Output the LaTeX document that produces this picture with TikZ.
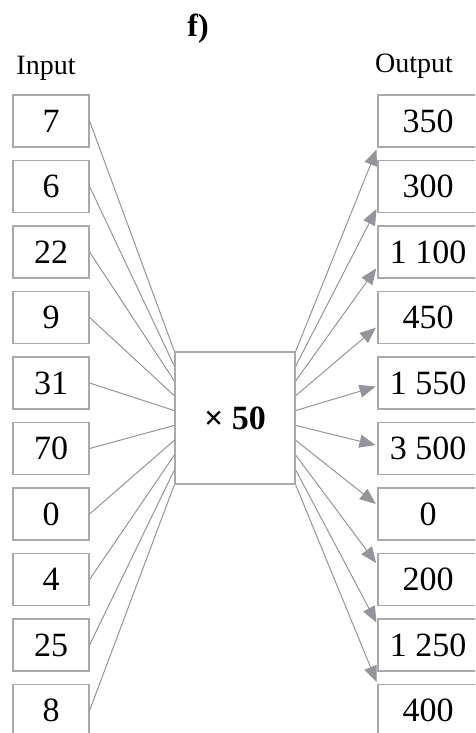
\documentclass[tikz,border=0pt]{standalone}
\usepackage{fontspec}
\setmainfont{Liberation Serif}
\usepackage{xcolor}
\definecolor{lineGray}{HTML}{94959A}
\definecolor{boxGray} {HTML}{A9A9A9}
\usetikzlibrary{arrows.meta, positioning, calc}
\tikzset{
    numbox/.style={draw=boxGray, line width=1.2pt, rectangle, inner sep=0pt,
                   minimum height=52pt, font=\fontsize{34}{36}\selectfont},
    inbox/.style={numbox, minimum width=76pt},
    outbox/.style={numbox, minimum width=100pt},
    mulbox/.style={numbox, minimum width=120pt, minimum height=132pt,
                   font=\fontsize{34}{36}\selectfont\bfseries},
    inedge/.style={-, lineGray, line width=1pt},
    outedge/.style={-{Triangle[length=16pt, width=13pt]}, lineGray,
                    line width=1pt, shorten >=2pt},
}

\begin{document}
\begin{tikzpicture}[x=1pt, y=-1pt]
\useasboundingbox (0,0) rectangle (475,733);
\clip (0,0) rectangle (475,733);

% --- headings ---
\node[font=\fontsize{32}{34}\selectfont\bfseries, anchor=base] (title) at (198, 37) {f)};
\node[font=\fontsize{28}{30}\selectfont, anchor=base] (in-label) at (46, 75) {Input};
\node[font=\fontsize{28}{30}\selectfont, anchor=base] (out-label) at (414, 73) {Output};

% --- input column ---
\node[inbox] (in-1)  at (51, 121)   {7};
\node[inbox] (in-2)  at (51, 186.5) {6};
\node[inbox] (in-3)  at (51, 252)   {22};
\node[inbox] (in-4)  at (51, 317.5) {9};
\node[inbox] (in-5)  at (51, 383)   {31};
\node[inbox] (in-6)  at (51, 448.5) {70};
\node[inbox] (in-7)  at (51, 514)   {0};
\node[inbox] (in-8)  at (51, 579.5) {4};
\node[inbox] (in-9)  at (51, 645)   {25};
\node[inbox] (in-10) at (51, 710.5) {8};

% --- the machine ---
\node[mulbox] (mul) at (235, 418) {× 50};

% --- output column ---
\node[outbox] (out-1)  at (428, 121)   {350};
\node[outbox] (out-2)  at (428, 186.5) {300};
\node[outbox] (out-3)  at (428, 252)   {1 100};
\node[outbox] (out-4)  at (428, 317.5) {450};
\node[outbox] (out-5)  at (428, 383)   {1 550};
\node[outbox] (out-6)  at (428, 448.5) {3 500};
\node[outbox] (out-7)  at (428, 514)   {0};
\node[outbox] (out-8)  at (428, 579.5) {200};
\node[outbox] (out-9)  at (428, 645)   {1 250};
\node[outbox] (out-10) at (428, 710.5) {400};

% --- inputs into the machine ---
\draw[inedge] (in-1.east)  -- ($(mul.north west)!0/9!(mul.south west)$);
\draw[inedge] (in-2.east)  -- ($(mul.north west)!1/9!(mul.south west)$);
\draw[inedge] (in-3.east)  -- ($(mul.north west)!2/9!(mul.south west)$);
\draw[inedge] (in-4.east)  -- ($(mul.north west)!3/9!(mul.south west)$);
\draw[inedge] (in-5.east)  -- ($(mul.north west)!4/9!(mul.south west)$);
\draw[inedge] (in-6.east)  -- ($(mul.north west)!5/9!(mul.south west)$);
\draw[inedge] (in-7.east)  -- ($(mul.north west)!6/9!(mul.south west)$);
\draw[inedge] (in-8.east)  -- ($(mul.north west)!7/9!(mul.south west)$);
\draw[inedge] (in-9.east)  -- ($(mul.north west)!8/9!(mul.south west)$);
\draw[inedge] (in-10.east) -- ($(mul.north west)!9/9!(mul.south west)$);

% --- machine out to the results ---
\draw[outedge] ($(mul.north east)!0/9!(mul.south east)$) -- ($(out-1.south west)!0/9!(out-1.north west)$);
\draw[outedge] ($(mul.north east)!1/9!(mul.south east)$) -- ($(out-2.south west)!1/9!(out-2.north west)$);
\draw[outedge] ($(mul.north east)!2/9!(mul.south east)$) -- ($(out-3.south west)!2/9!(out-3.north west)$);
\draw[outedge] ($(mul.north east)!3/9!(mul.south east)$) -- ($(out-4.south west)!3/9!(out-4.north west)$);
\draw[outedge] ($(mul.north east)!4/9!(mul.south east)$) -- ($(out-5.south west)!4/9!(out-5.north west)$);
\draw[outedge] ($(mul.north east)!5/9!(mul.south east)$) -- ($(out-6.south west)!5/9!(out-6.north west)$);
\draw[outedge] ($(mul.north east)!6/9!(mul.south east)$) -- ($(out-7.south west)!6/9!(out-7.north west)$);
\draw[outedge] ($(mul.north east)!7/9!(mul.south east)$) -- ($(out-8.south west)!7/9!(out-8.north west)$);
\draw[outedge] ($(mul.north east)!8/9!(mul.south east)$) -- ($(out-9.south west)!8/9!(out-9.north west)$);
\draw[outedge] ($(mul.north east)!9/9!(mul.south east)$) -- ($(out-10.south west)!9/9!(out-10.north west)$);
\end{tikzpicture}
\end{document}
